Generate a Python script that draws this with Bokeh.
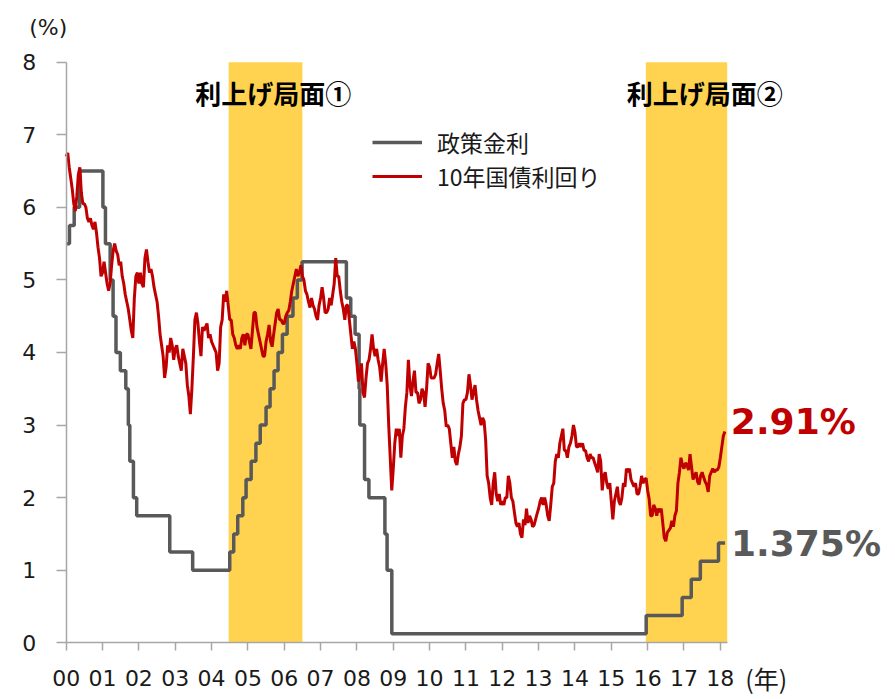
from bokeh.plotting import figure
from bokeh.models import Label, Legend, LegendItem, FixedTicker, Range1d
from bokeh.embed import file_html
from bokeh.resources import INLINE

# ---------------- data ----------------
# Policy rate (FF target, midpoint of range after 2008): change dates (fractional years) and levels
policy_dates = [2000.00, 2000.09, 2000.22, 2000.37, 2001.01, 2001.08, 2001.21, 2001.29, 2001.37,
                2001.49, 2001.64, 2001.71, 2001.75, 2001.85, 2001.94, 2002.85, 2003.48,
                2004.50, 2004.61, 2004.72, 2004.86, 2004.95, 2005.09, 2005.22, 2005.34,
                2005.50, 2005.61, 2005.72, 2005.83, 2005.95, 2006.08, 2006.24, 2006.36,
                2006.49, 2007.71, 2007.83, 2007.95, 2008.06, 2008.08, 2008.21, 2008.33,
                2008.77, 2008.83, 2008.96, 2015.96, 2016.95, 2017.20, 2017.45, 2017.95,
                2018.13]
policy_rates = [5.50, 5.75, 6.00, 6.50, 6.00, 5.50, 5.00, 4.50, 4.00,
                3.75, 3.50, 3.00, 2.50, 2.00, 1.75, 1.25, 1.00,
                1.25, 1.50, 1.75, 2.00, 2.25, 2.50, 2.75, 3.00,
                3.25, 3.50, 3.75, 4.00, 4.25, 4.50, 4.75, 5.00,
                5.25, 4.75, 4.50, 4.25, 3.50, 3.00, 2.25, 2.00,
                1.50, 1.00, 0.125, 0.375, 0.625, 0.875, 1.125, 1.375,
                1.375]

# 10-year government bond yield, semi-monthly readings from Jan 2000 to Feb 2018
ust10y = (
    [6.70, 6.75, 6.55, 6.40, 6.25, 6.05, 5.95, 6.15, 6.45, 6.55, 6.20, 6.05,
     6.05, 6.00, 5.85, 5.80, 5.85, 5.75, 5.70, 5.80, 5.65, 5.45, 5.30, 5.05]   # 2000
  + [5.10, 5.25, 5.10, 4.95, 4.85, 4.95, 5.20, 5.40, 5.50, 5.40, 5.35, 5.20,
     5.25, 5.05, 4.95, 4.80, 4.70, 4.60, 4.45, 4.30, 4.20, 4.75, 5.05, 5.10]   # 2001
  + [4.95, 5.10, 4.95, 4.90, 5.30, 5.42, 5.25, 5.10, 5.15, 5.05, 4.90, 4.80,
     4.70, 4.50, 4.25, 4.10, 3.95, 3.65, 3.80, 4.10, 4.00, 4.20, 4.10, 3.90]   # 2002
  + [4.05, 4.10, 3.95, 3.85, 3.75, 4.05, 3.95, 3.85, 3.55, 3.40, 3.15, 3.50,
     3.95, 4.45, 4.55, 4.40, 4.15, 3.95, 4.35, 4.30, 4.35, 4.40, 4.20, 4.25]   # 2003
  + [4.15, 4.10, 4.05, 4.00, 3.75, 3.85, 4.35, 4.45, 4.80, 4.70, 4.85, 4.65,
     4.45, 4.45, 4.25, 4.20, 4.10, 4.05, 4.10, 4.05, 4.20, 4.25, 4.10, 4.25]   # 2004
  + [4.25, 4.15, 4.05, 4.30, 4.55, 4.55, 4.35, 4.25, 4.15, 4.05, 3.95, 3.95,
     4.15, 4.25, 4.38, 4.15, 4.08, 4.25, 4.40, 4.55, 4.60, 4.45, 4.45, 4.40]   # 2005
  + [4.40, 4.50, 4.55, 4.58, 4.70, 4.85, 4.95, 5.05, 5.15, 5.05, 5.10, 5.20,
     5.05, 5.00, 4.85, 4.80, 4.70, 4.62, 4.75, 4.65, 4.60, 4.50, 4.45, 4.65]   # 2006
  + [4.75, 4.90, 4.75, 4.55, 4.55, 4.60, 4.75, 4.65, 4.80, 4.95, 5.30, 5.05,
     5.05, 4.85, 4.70, 4.60, 4.45, 4.65, 4.65, 4.45, 4.25, 4.05, 4.15, 4.05]   # 2007
  + [3.85, 3.60, 3.70, 3.85, 3.45, 3.38, 3.65, 3.85, 3.90, 4.05, 4.25, 4.05,
     3.95, 4.05, 3.90, 3.80, 3.60, 3.85, 4.05, 3.85, 3.55, 3.00, 2.55, 2.10]   # 2008
  + [2.40, 2.75, 2.95, 2.85, 2.95, 2.55, 2.85, 2.95, 3.25, 3.45, 3.90, 3.55,
     3.40, 3.60, 3.75, 3.45, 3.45, 3.30, 3.35, 3.50, 3.45, 3.25, 3.50, 3.85]   # 2009
  + [3.80, 3.65, 3.65, 3.65, 3.70, 3.85, 3.98, 3.75, 3.50, 3.30, 3.20, 2.98,
     3.00, 2.95, 2.75, 2.55, 2.70, 2.50, 2.45, 2.60, 2.70, 2.85, 3.30, 3.35]   # 2010
  + [3.35, 3.45, 3.70, 3.55, 3.35, 3.45, 3.55, 3.35, 3.20, 3.10, 3.00, 3.10,
     3.05, 2.80, 2.30, 2.20, 2.00, 1.90, 2.20, 2.35, 2.05, 1.95, 2.05, 1.90]   # 2011
  + [1.95, 1.90, 2.00, 2.00, 2.30, 2.20, 2.00, 1.95, 1.80, 1.65, 1.60, 1.65,
     1.50, 1.45, 1.70, 1.62, 1.85, 1.65, 1.75, 1.70, 1.60, 1.62, 1.70, 1.78]   # 2012
  + [1.85, 1.95, 2.00, 1.90, 2.00, 1.90, 1.75, 1.68, 1.90, 2.15, 2.20, 2.50,
     2.60, 2.55, 2.75, 2.85, 2.95, 2.65, 2.65, 2.55, 2.70, 2.75, 2.85, 3.00]   # 2013
  + [2.90, 2.70, 2.70, 2.75, 2.70, 2.75, 2.65, 2.65, 2.55, 2.50, 2.60, 2.55,
     2.55, 2.48, 2.42, 2.35, 2.60, 2.50, 2.10, 2.30, 2.35, 2.20, 2.12, 2.20]   # 2014
  + [1.95, 1.70, 1.95, 2.05, 2.15, 1.95, 1.90, 2.00, 2.20, 2.15, 2.40, 2.35,
     2.40, 2.25, 2.20, 2.15, 2.20, 2.05, 2.05, 2.15, 2.30, 2.20, 2.25, 2.27]   # 2015
  + [2.10, 1.98, 1.75, 1.75, 1.90, 1.85, 1.75, 1.85, 1.80, 1.85, 1.65, 1.45,
     1.40, 1.52, 1.55, 1.58, 1.68, 1.60, 1.75, 1.82, 2.20, 2.35, 2.55, 2.45]   # 2016
  + [2.40, 2.48, 2.45, 2.38, 2.60, 2.42, 2.25, 2.30, 2.35, 2.22, 2.18, 2.30,
     2.35, 2.28, 2.22, 2.18, 2.08, 2.30, 2.35, 2.40, 2.35, 2.38, 2.38, 2.42]   # 2017
  + [2.55, 2.70, 2.85, 2.91]                                                   # 2018
)
ust10y_dates = [2000 + i / 24 for i in range(len(ust10y))]

# rate-hike phases (start, end)
hike_start = [2004.47, 2015.95]
hike_end = [2006.50, 2018.19]
hike_labels = ["利上げ局面①", "利上げ局面②"]

year_ticks = list(range(2000, 2019))
year_labels = ["00", "01", "02", "03", "04", "05", "06", "07", "08", "09",
               "10", "11", "12", "13", "14", "15", "16", "17", "18"]
y_ticks = [0, 1, 2, 3, 4, 5, 6, 7, 8]

series_names = ["政策金利", "10年国債利回り"]
last_yield_text = "2.91%"
last_policy_text = "1.375%"

# ---------------- styles ----------------
RED = "#C00000"
GRAY = "#595959"
GOLD = "#FFD34F"
AXIS = "#A6A6A6"
TXT = "#1a1a1a"
JP = "Noto Sans CJK JP"
LAT = "DejaVu Sans"

X0, X1 = year_ticks[0], hike_end[-1]   # axis extent
Y0, Y1 = y_ticks[0], y_ticks[-1]

# the frame fills the whole canvas so that outside texts are not clipped;
# axes are pinned at the data origin with fixed_location
p = figure(width=890, height=695, output_backend="svg", toolbar_location=None,
           x_range=Range1d(1998.192, 2022.683), y_range=Range1d(-0.726, 8.850),
           min_border=0)
p.outline_line_color = None
p.xgrid.visible = False
p.ygrid.visible = False

p.quad(left=hike_start, right=hike_end, bottom=Y0, top=Y1,
       fill_color=GOLD, line_color=None)

r_pol = p.step(x=policy_dates, y=policy_rates, mode="after", line_color=GRAY, line_width=3.5)
r_yld = p.line(x=ust10y_dates, y=ust10y, line_color=RED, line_width=3)

# axes
p.xaxis.fixed_location = Y0
p.xaxis.bounds = (X0, X1)
p.yaxis.fixed_location = X0
p.yaxis.bounds = (Y0, Y1)
p.xaxis.ticker = FixedTicker(ticks=year_ticks)
p.xaxis.major_label_overrides = dict(zip(year_ticks, year_labels))
p.yaxis.ticker = FixedTicker(ticks=y_ticks)
for ax in (p.xaxis, p.yaxis):
    ax.axis_line_color = AXIS
    ax.axis_line_width = 1.5
    ax.major_tick_line_color = AXIS
    ax.major_tick_line_width = 1.5
    ax.minor_tick_line_color = None
    ax.major_tick_in = 0
    ax.major_label_text_font = LAT
    ax.major_label_text_font_size = "22px"
    ax.major_label_text_color = TXT
p.xaxis.major_tick_out = 8
p.xaxis.major_label_standoff = 19
p.yaxis.major_tick_out = 10
p.yaxis.major_label_standoff = 20

# legend: one entry per Legend so the row spacing can be matched
legend_rows = [(series_names[0], r_pol, 536), (series_names[1], r_yld, 502)]
for name, rend, ly in legend_rows:
    p.add_layout(Legend(items=[LegendItem(label=name, renderers=[rend])],
                        location=(372, ly), padding=0, margin=0, spacing=0,
                        glyph_width=50, glyph_height=30, label_standoff=15,
                        label_text_font=JP, label_text_font_size="23px", label_text_color=TXT,
                        border_line_color=None, background_fill_alpha=0))

# phase labels
phase_label_x = [2005.70, 2017.57]
for lx, txt in zip(phase_label_x, hike_labels):
    p.add_layout(Label(x=lx, y=7.58, text=txt, text_font=JP, text_font_size="26px",
                       text_font_style="bold", text_color="#000000",
                       text_align="center", text_baseline="middle"))

# end-value labels
p.add_layout(Label(x=ust10y_dates[-1], y=ust10y[-1], text=last_yield_text, x_offset=6, y_offset=10,
                   text_font=LAT, text_font_size="36px", text_font_style="bold", text_color=RED,
                   text_align="left", text_baseline="middle"))
p.add_layout(Label(x=policy_dates[-1], y=policy_rates[-1], text=last_policy_text, x_offset=6, y_offset=0,
                   text_font=LAT, text_font_size="36px", text_font_style="bold", text_color=GRAY,
                   text_align="left", text_baseline="middle"))

# unit labels
p.add_layout(Label(x=X0, y=Y1, text="(%)", x_offset=-18, y_offset=35,
                   text_font=LAT, text_font_size="22px", text_color=TXT,
                   text_align="center", text_baseline="middle"))
p.add_layout(Label(x=year_ticks[-1], y=Y0, text="(年)", x_offset=25, y_offset=-35,
                   text_font=JP, text_font_size="25px", text_color=TXT,
                   text_align="left", text_baseline="middle"))

open("out.html", "w").write(file_html(p, INLINE))
